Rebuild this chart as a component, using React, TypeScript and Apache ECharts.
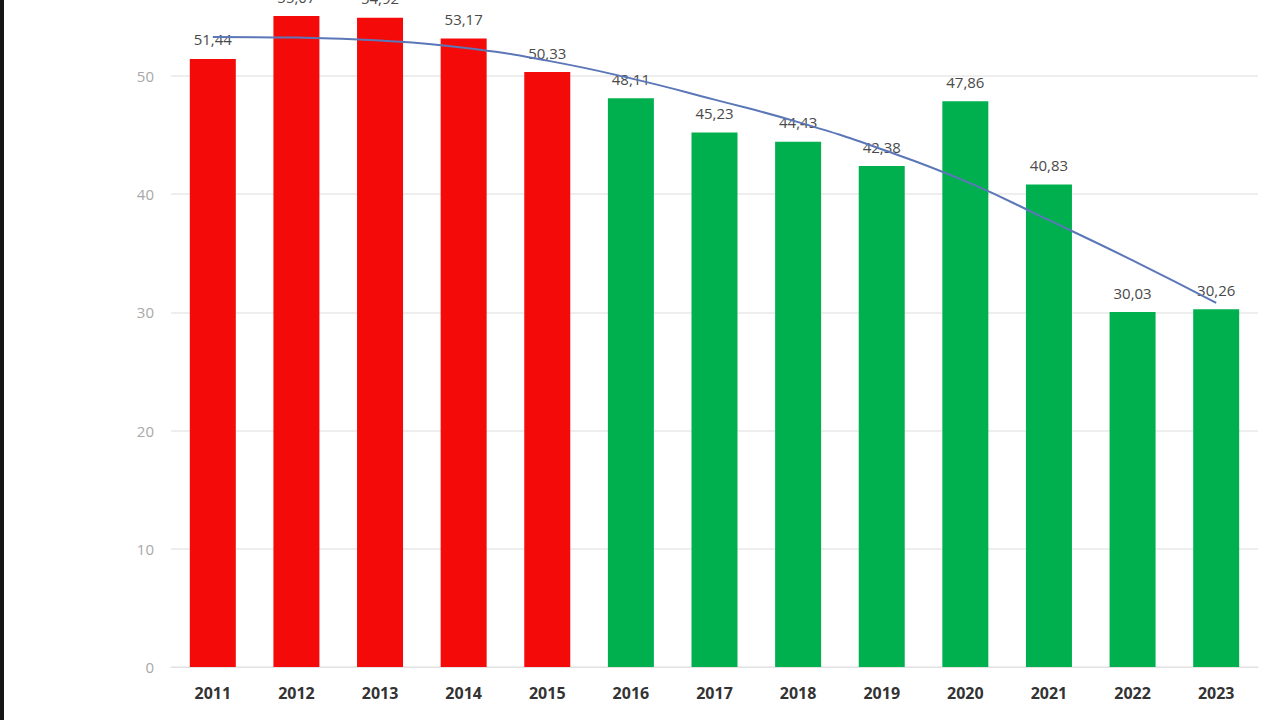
import React, { useEffect, useRef } from "react";
import * as echarts from "echarts";

const years = ["2011", "2012", "2013", "2014", "2015", "2016", "2017", "2018", "2019", "2020", "2021", "2022", "2023"];
const values = [51.44, 55.07, 54.92, 53.17, 50.33, 48.11, 45.23, 44.43, 42.38, 47.86, 40.83, 30.03, 30.26];
const barColors = ["#f50a0a", "#f50a0a", "#f50a0a", "#f50a0a", "#f50a0a", "#00b04f", "#00b04f", "#00b04f", "#00b04f", "#00b04f", "#00b04f", "#00b04f", "#00b04f"];
const trend = [53.3, 53.25, 53.0, 52.4, 51.3, 49.8, 48.0, 46.1, 43.8, 41.1, 37.8, 34.4, 30.8];
const yTicks = [0, 10, 20, 30, 40, 50];

export default function App() {
  const ref = useRef<HTMLDivElement>(null);
  useEffect(() => {
    if (!ref.current) return;
    const chart = echarts.init(ref.current, null, { renderer: "svg" });
    chart.setOption({
      animation: false,
      backgroundColor: "#ffffff",
      graphic: [
        { type: "rect", left: 0, top: 0, shape: { x: 0, y: 0, width: 4, height: 720 }, style: { fill: "#151515" } },
      ],
      grid: { left: 171, right: 22, top: 0, bottom: 53 },
      xAxis: {
        type: "category",
        data: years,
        axisTick: { show: false },
        axisLine: { lineStyle: { color: "#e2e2e2", width: 1 } },
        axisLabel: { color: "#333", fontSize: 16, fontWeight: "bold", fontFamily: "Open Sans", margin: 18 },
      },
      yAxis: {
        type: "value",
        min: 0,
        max: 56.43,
        interval: 10,
        axisLine: { show: false },
        axisTick: { show: false },
        axisLabel: {
          color: "#a8a8a8",
          fontSize: 15,
          fontFamily: "Open Sans",
          margin: 17,
          showMaxLabel: false,
          formatter: (v: number) => (yTicks.indexOf(v) >= 0 ? String(v) : ""),
        },
        splitLine: { show: true, showMaxLine: false, lineStyle: { color: "#e8e8e8", width: 1.5 } },
      },
      series: [
        {
          type: "bar",
          data: values.map((v, i) => ({ value: v, itemStyle: { color: barColors[i] } })),
          barWidth: 46,
          label: {
            show: true,
            position: "top",
            distance: 12,
            color: "#4a4a4a",
            fontSize: 15,
            fontFamily: "Open Sans",
            formatter: (p: any) => p.value.toFixed(2).replace(".", ","),
          },
        },
        {
          type: "line",
          data: trend,
          smooth: true,
          showSymbol: false,
          symbol: "none",
          lineStyle: { color: "#5b77b8", width: 2 },
          z: 5,
        },
      ],
    });
    return () => chart.dispose();
  }, []);
  return <div ref={ref} style={{ position: "fixed", left: 0, top: 0, width: 1280, height: 720 }} />;
}
